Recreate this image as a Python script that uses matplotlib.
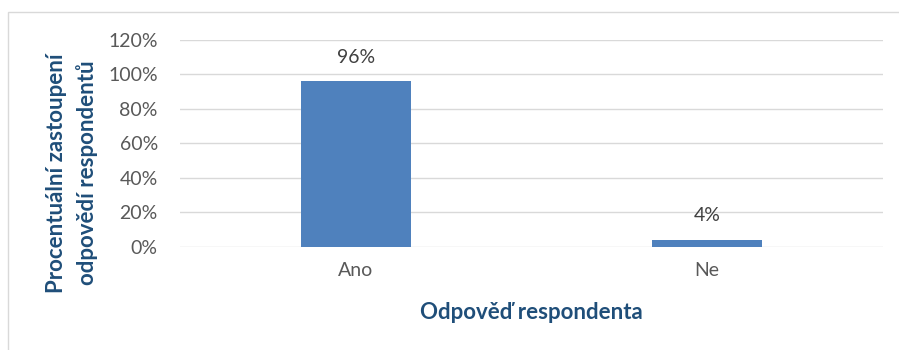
import matplotlib.pyplot as plt
from matplotlib.patches import Rectangle

categories = ['Ano', 'Ne']
shares = [96, 4]
y_ticks = [0, 20, 40, 60, 80, 100, 120]

plt.rcParams['font.family'] = ['Lato', 'DejaVu Sans']

fig = plt.figure(figsize=(8.99, 3.5), dpi=100)
ax = fig.add_axes([180 / 899, 1 - 246.5 / 350, 703 / 899, 206.5 / 350])

x = range(len(categories))
bars = ax.bar(x, shares, width=0.313, color='#4F81BD', zorder=3)
for b, v in zip(bars, shares):
    ax.annotate(f'{v}%', (b.get_x() + b.get_width() / 2, v), xytext=(0, 11),
                textcoords='offset points', ha='center', va='bottom',
                fontsize=14, color='#404040')

ax.set_xlim(-0.5, 1.5)
ax.set_ylim(0, 120)
ax.set_yticks(y_ticks)
ax.set_yticklabels([f'{t}%' for t in y_ticks], fontsize=14, color='#595959')
ax.set_xticks(list(x))
ax.set_xticklabels(categories, fontsize=14, color='#595959')
ax.tick_params(length=0)
ax.tick_params(axis='y', pad=16)
ax.tick_params(axis='x', pad=11)
ax.grid(axis='y', color='#D9D9D9', linewidth=1, zorder=0)
for s in ax.spines.values():
    s.set_visible(False)

ax.set_xlabel('Odpověď respondenta', fontsize=16, fontweight='bold', color='#1F4E79',
              labelpad=17)
fig.text(72 / 899, 1 - 173 / 350, 'Procentuální zastoupení\nodpovědí respondentů',
         rotation=90, ha='center', va='center', fontsize=16, fontweight='bold',
         color='#1F4E79', linespacing=1.45)

# light frame around the chart area
fig.patches.append(Rectangle((8 / 899, -0.1), 1.0, 1 - 12 / 350 + 0.1,
                             transform=fig.transFigure, fill=False,
                             edgecolor='#D9D9D9', linewidth=1))

fig.savefig('out.png', dpi=100)
